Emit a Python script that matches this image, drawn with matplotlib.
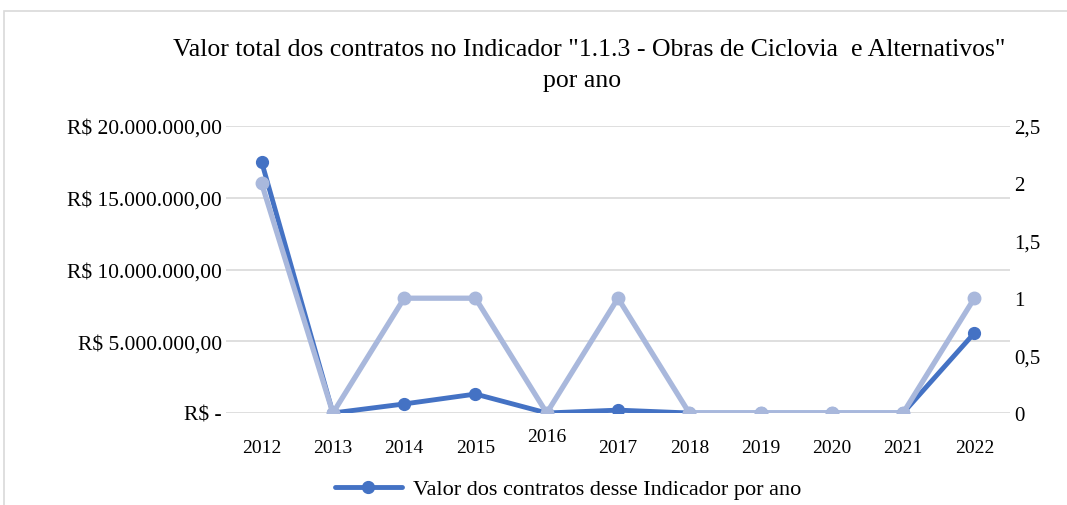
import matplotlib.pyplot as plt
import matplotlib.transforms as mtransforms
from matplotlib.patches import Rectangle

plt.rcParams['font.family'] = ['Liberation Serif', 'DejaVu Serif']

anos = ['2012', '2013', '2014', '2015', '2016', '2017', '2018', '2019', '2020', '2021', '2022']
valor_contratos = [17500000, 0, 630000, 1320000, 0, 200000, 0, 0, 0, 0, 5570000]
qtd_contratos = [2, 0, 1, 1, 0, 1, 0, 0, 0, 0, 1]
ticks_esq = [0, 5000000, 10000000, 15000000, 20000000]
labels_esq = ['R$ -', 'R$ 5.000.000,00', 'R$ 10.000.000,00', 'R$ 15.000.000,00', 'R$ 20.000.000,00']
ticks_dir = [0, 0.5, 1, 1.5, 2, 2.5]
labels_dir = ['0', '0,5', '1', '1,5', '2', '2,5']

azul = '#4472C4'
azul_claro = '#A9B8DC'

fig = plt.figure(figsize=(10.67, 5.06), dpi=100)
fig.patches.append(Rectangle((4 / 1067, -0.1), 1.2, 1 - 12 / 506 + 0.1, transform=fig.transFigure,
                             fill=False, edgecolor='#D9D9D9', linewidth=1.2))
ax = fig.add_axes([226 / 1067, 1 - 414 / 506, 784 / 1067, 287 / 506])
ax2 = ax.twinx()

x = range(len(anos))
ax.plot(x, valor_contratos, color=azul, linewidth=3.5, marker='o', markersize=8.5,
        label='Valor dos contratos desse Indicador por ano', solid_capstyle='round')
ax2.plot(x, qtd_contratos, color=azul_claro, linewidth=3.8, marker='o', markersize=9,
         solid_capstyle='round')

ax.set_xlim(-0.5, len(anos) - 0.5)
ax.set_ylim(0, 20000000)
ax2.set_ylim(0, 2.5)
ax.set_yticks(ticks_esq)
ax.set_yticklabels(labels_esq)
ax2.set_yticks(ticks_dir)
ax2.set_yticklabels(labels_dir)
ax.set_xticks(list(x))
ax.set_xticklabels(anos)

ax.grid(True, axis='y', color='#D9D9D9', linewidth=1.2)
ax.set_axisbelow(True)
for a in (ax, ax2):
    for s in a.spines.values():
        s.set_visible(False)
ax.tick_params(axis='y', length=0, labelsize=15.5, pad=3)
ax2.tick_params(axis='y', length=0, labelsize=15, pad=3)
ax.tick_params(axis='x', length=0, labelsize=14, pad=19)

# rótulo de 2016 aparece deslocado para cima no original
lab = ax.get_xticklabels()[4]
lab.set_transform(lab.get_transform() + mtransforms.ScaledTranslation(0, 11 / 100, fig.dpi_scale_trans))

fig.text(589 / 1067, 1 - 50 / 506, 'Valor total dos contratos no Indicador "1.1.3 - Obras de Ciclovia  e Alternativos"',
         ha='center', va='center', fontsize=18.5)
fig.text(582 / 1067, 1 - 81 / 506, 'por ano', ha='center', va='center', fontsize=18.5)

fig.legend(loc='center', bbox_to_anchor=(568 / 1067, 1 - 490 / 506), frameon=False, fontsize=16,
           handlelength=3.0, handletextpad=0.5)

fig.savefig('out.png', dpi=100)
